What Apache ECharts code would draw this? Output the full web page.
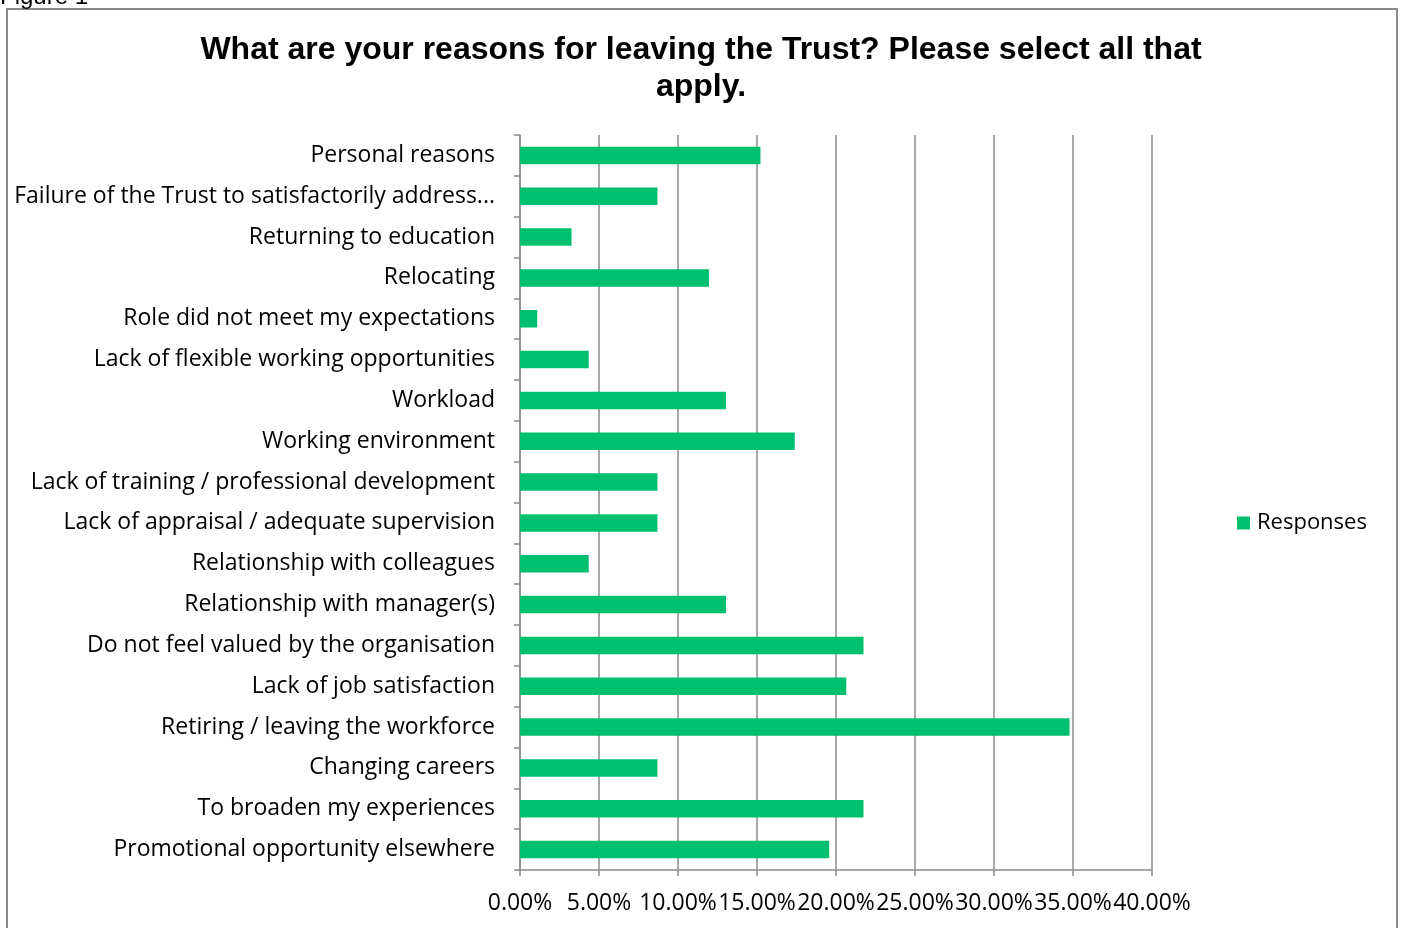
<!DOCTYPE html>
<html>
<head>
<meta charset="utf-8">
<style>
  html, body { margin: 0; padding: 0; background: #ffffff; }
  #chart { width: 1402px; height: 928px; }
</style>
<script src="https://cdn.jsdelivr.net/npm/echarts@6/dist/echarts.min.js"></script>
</head>
<body>
<div id="chart"></div>
<script>
// Reasons for leaving, listed top to bottom
const categories = [
  'Personal reasons',
  'Failure of the Trust to satisfactorily address...',
  'Returning to education',
  'Relocating',
  'Role did not meet my expectations',
  'Lack of flexible working opportunities',
  'Workload',
  'Working environment',
  'Lack of training / professional development',
  'Lack of appraisal / adequate supervision',
  'Relationship with colleagues',
  'Relationship with manager(s)',
  'Do not feel valued by the organisation',
  'Lack of job satisfaction',
  'Retiring / leaving the workforce',
  'Changing careers',
  'To broaden my experiences',
  'Promotional opportunity elsewhere'
];

// Share of respondents selecting each reason
const responses = [
  0.1522, 0.0870, 0.0326, 0.1196, 0.0109, 0.0435, 0.1304, 0.1739, 0.0870,
  0.0870, 0.0435, 0.1304, 0.2174, 0.2065, 0.3478, 0.0870, 0.2174, 0.1957
];

const xTicks = { min: 0, max: 0.4, interval: 0.05 };

const labelFont = '"Open Sans", "Noto Sans", sans-serif';
const gridColor = '#8c8c8c';

const chart = echarts.init(document.getElementById('chart'), null, { renderer: 'canvas' });

chart.setOption({
  backgroundColor: '#ffffff',
  animation: false,
  title: {
    text: 'What are your reasons for leaving the Trust? Please select all that\napply.',
    left: 'center',
    top: 27,
    textStyle: {
      fontFamily: '"Liberation Sans", Arial, sans-serif',
      fontWeight: 'bold',
      fontSize: 32,
      lineHeight: 37,
      color: '#000000'
    }
  },
  legend: {
    orient: 'vertical',
    left: 1232,
    top: 507,
    icon: 'rect',
    itemWidth: 13,
    itemHeight: 13,
    itemGap: 6,
    textStyle: { fontFamily: labelFont, fontSize: 22, color: '#000000', padding: [0, 0, 0, 2] },
    data: ['Responses']
  },
  grid: { left: 520, right: 250, top: 135, bottom: 58, containLabel: false },
  xAxis: {
    type: 'value',
    min: xTicks.min,
    max: xTicks.max,
    interval: xTicks.interval,
    axisLine: { show: true, lineStyle: { color: gridColor, width: 1.5 } },
    axisTick: { show: true, length: 6, lineStyle: { color: gridColor, width: 1.5 } },
    splitLine: { show: true, lineStyle: { color: gridColor, width: 1.5 } },
    axisLabel: {
      margin: 22,
      fontFamily: labelFont,
      fontSize: 23,
      color: '#000000',
      formatter: v => (v * 100).toFixed(2) + '%'
    }
  },
  yAxis: {
    type: 'category',
    inverse: true,
    data: categories,
    axisLine: { show: true, lineStyle: { color: gridColor, width: 1.5 } },
    axisTick: { show: true, length: 6, lineStyle: { color: gridColor, width: 1.5 } },
    axisLabel: {
      margin: 25,
      fontFamily: labelFont,
      fontSize: 23,
      color: '#000000',
      padding: [3, 0, 0, 0]
    }
  },
  series: [{
    name: 'Responses',
    type: 'bar',
    data: responses,
    barWidth: '43%',
    itemStyle: { color: '#00bf6f' }
  }],
  graphic: [
    {
      type: 'rect',
      silent: true,
      shape: { x: 7, y: 9, width: 1390, height: 940 },
      style: { fill: 'none', stroke: '#8a8a8a', lineWidth: 2 }
    },
    {
      type: 'text',
      silent: true,
      left: 0,
      top: -15,
      style: {
        text: 'Figure 1',
        fontFamily: '"Liberation Sans", Arial, sans-serif',
        fontSize: 24,
        fill: '#000000'
      }
    }
  ]
});
</script>
</body>
</html>
